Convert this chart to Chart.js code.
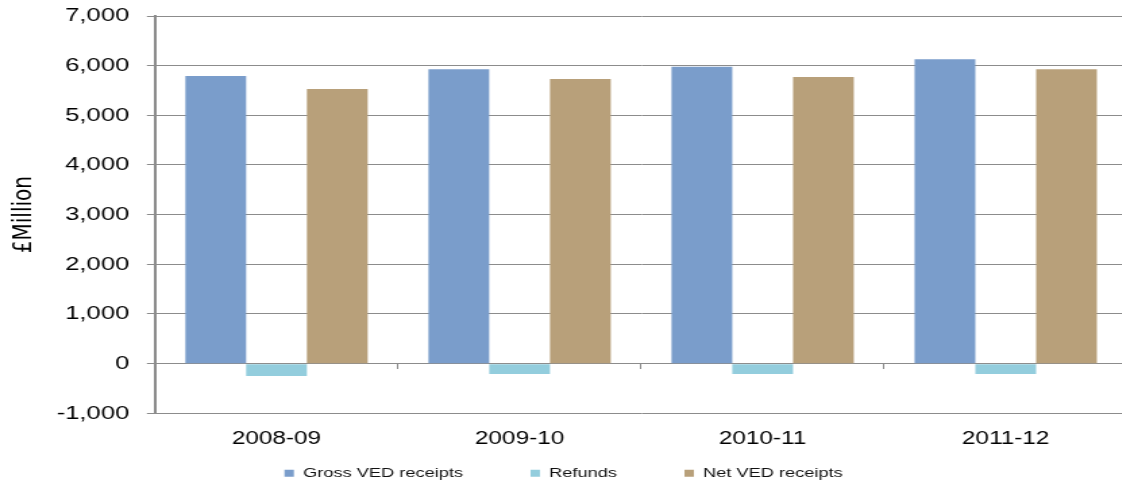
<!DOCTYPE html>
<html>
<head>
<meta charset="utf-8">
<script src="https://cdn.jsdelivr.net/npm/chart.js@4/dist/chart.umd.min.js"></script>
<style>
  html, body { margin: 0; padding: 0; background: #fff; overflow: hidden; }
  /* the chart is laid out narrow and widened horizontally */
  #wrap { width: 836px; height: 486px; transform: scaleX(1.35); transform-origin: 0 0; }
</style>
</head>
<body>
<div id="wrap"><canvas id="c" width="836" height="486"></canvas></div>
<script>
// VED receipts by financial year, £ million
const categories = ['2008-09', '2009-10', '2010-11', '2011-12'];
const grossReceipts = [5790, 5930, 5980, 6130];
const refunds = [-250, -210, -210, -210];
const netReceipts = [5530, 5730, 5770, 5930];
const yTickValues = [-1000, 0, 1000, 2000, 3000, 4000, 5000, 6000, 7000];

const FONT = "'Liberation Sans', Arial, sans-serif";
const GRID = '#8c8c8c';

new Chart(document.getElementById('c'), {
  type: 'bar',
  data: {
    labels: categories,
    datasets: [
      { label: 'Gross VED receipts', data: grossReceipts, backgroundColor: '#7A9DCB' },
      { label: 'Refunds', data: refunds, backgroundColor: '#93CDDD' },
      { label: 'Net VED receipts', data: netReceipts, backgroundColor: '#B8A07A' }
    ]
  },
  options: {
    responsive: false,
    animation: false,
    devicePixelRatio: 1,
    layout: { padding: { top: 16, right: 1, left: 0, bottom: 0 } },
    datasets: { bar: { categoryPercentage: 0.75, barPercentage: 1.0 } },
    plugins: {
      legend: {
        position: 'bottom',
        maxHeight: 69.5,
        labels: {
          boxWidth: 7, boxHeight: 7, padding: 50,
          color: '#111', font: { family: FONT, size: 13.5 }
        }
      },
      tooltip: { enabled: false }
    },
    scales: {
      x: {
        grid: { display: false },
        border: { display: false },
        ticks: { color: '#000', padding: 7, maxRotation: 0, font: { family: FONT, size: 18 } },
        afterFit(s) {
          // thin axis box so the plot reaches down to the legend; labels are drawn unclipped below it
          s._computeLabelArea = () => undefined;
          const lg = s.chart.legend;
          s.height = Math.max(0, s.chart.height - (lg ? lg.height : 0) - 413.3);
        }
      },
      // category axis line crossing at zero, with tick marks between years
      x0: {
        type: 'category',
        axis: 'x',
        position: { y: 0 },
        grid: { display: true, drawOnChartArea: false, drawTicks: true, tickLength: 5, color: GRID, offset: true },
        border: { display: true, color: GRID, width: 1 },
        ticks: { display: false }
      },
      y: {
        min: -1000,
        max: 7000,
        afterBuildTicks(a) { a.ticks = yTickValues.map(v => ({ value: v })); },
        ticks: {
          color: '#000', padding: 13,
          font: { family: FONT, size: 19 },
          callback: v => v.toLocaleString('en-US')
        },
        grid: { color: GRID, lineWidth: 1, tickLength: 6 },
        border: { color: GRID, width: 2 },
        title: {
          display: true, text: '£Million', color: '#000',
          font: { family: "'DejaVu Sans', sans-serif", size: 20 },
          padding: { top: 6, bottom: 0 }
        },
        afterFit(s) {
          s.width = 114.8;
          s.paddingTop = 0;
          s.paddingBottom = 0;
        }
      }
    }
  }
});
</script>
</body>
</html>
